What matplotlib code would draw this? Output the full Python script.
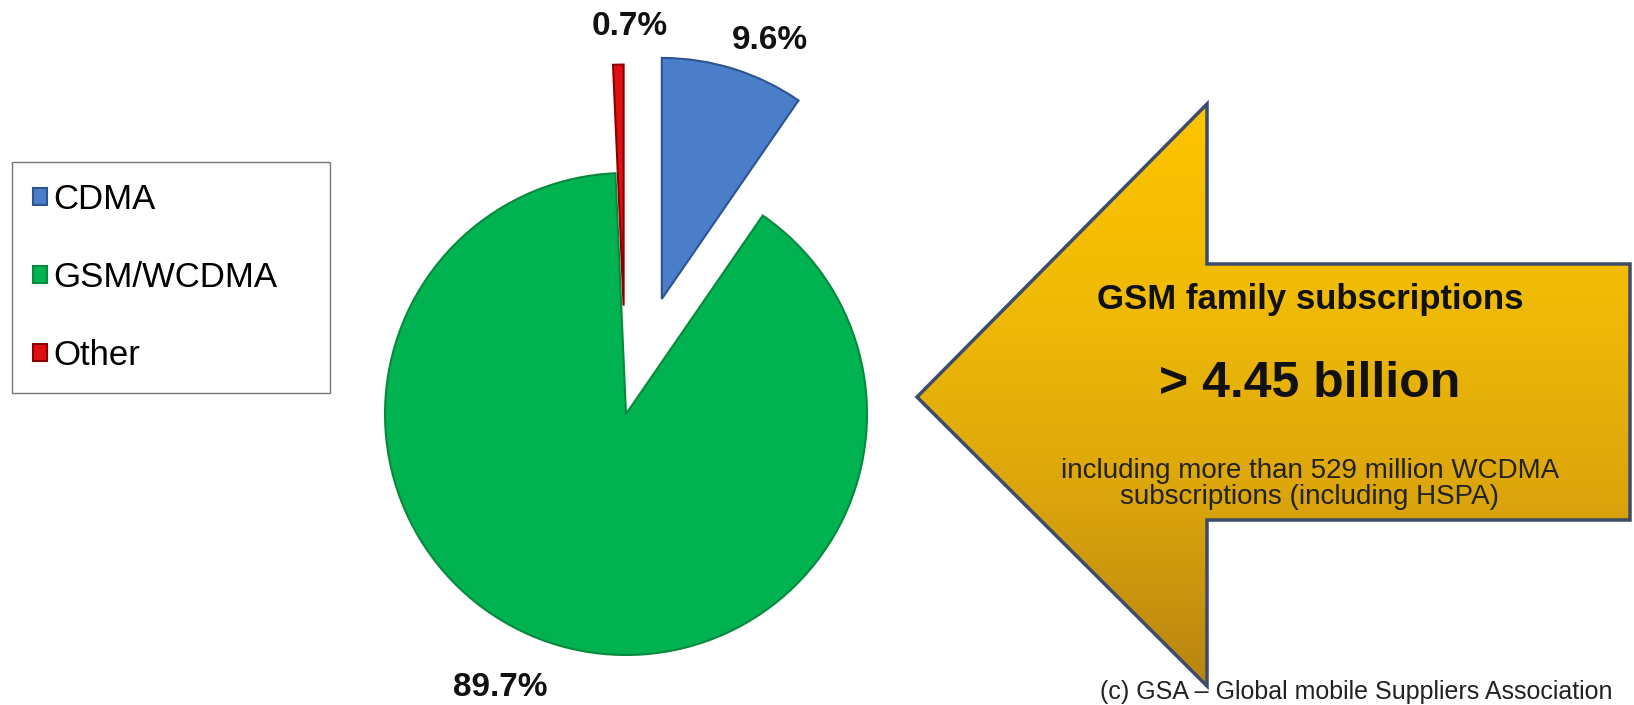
import numpy as np
import matplotlib
matplotlib.use("Agg")
import matplotlib.pyplot as plt
from matplotlib.patches import Polygon
from matplotlib.colors import LinearSegmentedColormap

plt.rcParams['font.family'] = ['Liberation Sans', 'DejaVu Sans']

# data
labels = ['CDMA', 'GSM/WCDMA', 'Other']
shares = [9.6, 89.7, 0.7]
colors = ['#4a7ec9', '#00b350', '#e01010']
edges = ['#2c5590', '#078a3e', '#8a0000']
explode = [0.5, 0.0, 0.45]
pct_text = ['9.6%', '89.7%', '0.7%']

W, H = 1634, 705
fig = plt.figure(figsize=(W / 100, H / 100), dpi=100)

# background axes in pixel units for the arrow and notes
bg = fig.add_axes([0, 0, 1, 1])
bg.set_xlim(0, W)
bg.set_ylim(H, 0)
bg.axis('off')

# pie axes: center ~(626, 414) px, radius ~241 px
cx, cy, r = 626, 414, 241
half = 420
ax = fig.add_axes([(cx - half) / W, (H - cy - half) / H, 2 * half / W, 2 * half / H])
wedges, _ = ax.pie(shares, colors=colors, explode=explode, startangle=90,
                   counterclock=False,
                   wedgeprops=dict(linewidth=1.5))
for w, ec in zip(wedges, edges):
    w.set_edgecolor(ec)
lim = half / r
ax.set_xlim(-lim, lim)
ax.set_ylim(-lim, lim)
ax.set_aspect('equal')
ax.axis('off')

# percentage labels placed from each wedge's geometry
lab_dist = [1.16, 1.25, 1.16]
lab_shift = [-5.4, -8.7, -2.6]
for w, t, d, s in zip(wedges, pct_text, lab_dist, lab_shift):
    ang = np.deg2rad((w.theta1 + w.theta2) / 2 + s)
    x0, y0 = w.center
    ax.text(x0 + d * np.cos(ang), y0 + d * np.sin(ang), t,
            ha='center', va='center', fontsize=24, fontweight='bold',
            color='#111111', clip_on=False)

# legend
fig.legend(wedges, labels, loc='upper left',
           bbox_to_anchor=(12 / W, 1 - 162 / H, 318 / W, 0.0001),
           mode='expand', fontsize=25, frameon=True, fancybox=False,
           edgecolor='#555555', labelspacing=1.3, handlelength=0.4,
           handleheight=0.4, handletextpad=0.2, borderpad=0.6,
           borderaxespad=0)

# big arrow pointing left
tip = (917, 397)
head_x, head_top, head_bot = 1207, 104, 686
sh_top, sh_bot, right = 264, 520, 1630
pts = [tip, (head_x, head_top), (head_x, sh_top), (right, sh_top),
       (right, sh_bot), (head_x, sh_bot), (head_x, head_bot)]
poly = Polygon(pts, closed=True, facecolor='none', edgecolor='#3b4b6b',
               linewidth=2.5, zorder=3)
bg.add_patch(poly)
cmap = LinearSegmentedColormap.from_list('gold', ['#ffc400', '#f0bb06', '#dca60c', '#b98410'])
grad = np.linspace(0, 1, 256).reshape(-1, 1)
img = bg.imshow(grad, cmap=cmap, extent=(tip[0], right, head_bot, head_top),
                aspect='auto', zorder=2)
img.set_clip_path(poly)

tx = 1310
bg.text(tx, 300, 'GSM family subscriptions', ha='center', va='center',
        fontsize=25, fontweight='bold', color='#111111', zorder=4)
bg.text(tx, 384, '> 4.45 billion', ha='center', va='center',
        fontsize=36, fontweight='bold', color='#111111', zorder=4)
bg.text(tx, 484, 'including more than 529 million WCDMA\nsubscriptions (including HSPA)',
        ha='center', va='center', fontsize=20, color='#222222',
        linespacing=1.0, zorder=4)

bg.text(1100, 699, '(c) GSA \u2013 Global mobile Suppliers Association',
        ha='left', va='baseline', fontsize=18, color='#222222')

fig.savefig('out.png', dpi=100)
